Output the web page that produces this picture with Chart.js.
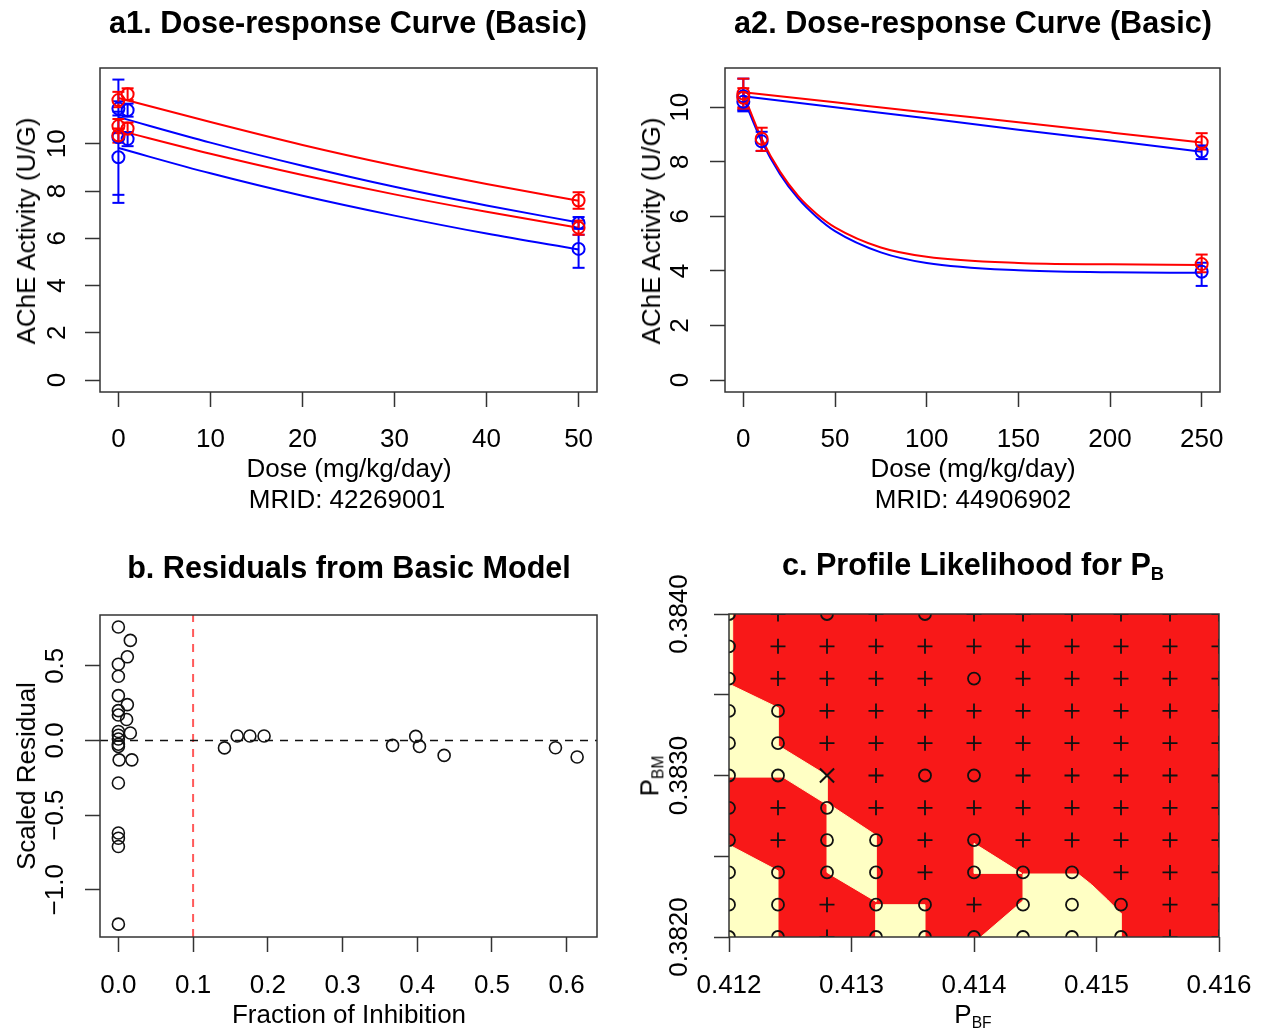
<!DOCTYPE html>
<html>
<head>
<meta charset="utf-8">
<script src="https://cdn.jsdelivr.net/npm/chart.js@4.4.1/dist/chart.umd.min.js"></script>
<style>
  body { margin: 0; background: #fff; width: 1263px; height: 1032px; position: relative; overflow: hidden;
         font-family: "Liberation Sans", Arial, sans-serif; }
  canvas { position: absolute; }
  .txt { position: absolute; transform: translate(-50%, -50%); white-space: nowrap; font-size: 26px; line-height: 1; color: #000; }
  .title { font-weight: bold; font-size: 30.6px; }
  .rot { transform: translate(-50%, -50%) rotate(-90deg); }
  sub { font-size: 0.6em; vertical-align: -0.3em; }
</style>
</head>
<body>
<canvas id="a1" width="631" height="516" style="left:0;top:0"></canvas>
<canvas id="a2" width="632" height="516" style="left:631px;top:0"></canvas>
<canvas id="b" width="631" height="516" style="left:0;top:516px"></canvas>
<canvas id="c" width="632" height="516" style="left:631px;top:516px"></canvas>

<div class="txt title" style="left:348px;top:22px">a1. Dose-response Curve (Basic)</div>
<div class="txt rot" style="left:26px;top:231px">AChE Activity (U/G)</div>
<div class="txt" style="left:349px;top:468px">Dose (mg/kg/day)</div>
<div class="txt" style="left:347px;top:499px">MRID: 42269001</div>

<div class="txt title" style="left:973px;top:22px">a2. Dose-response Curve (Basic)</div>
<div class="txt rot" style="left:651px;top:231px">AChE Activity (U/G)</div>
<div class="txt" style="left:973px;top:468px">Dose (mg/kg/day)</div>
<div class="txt" style="left:973px;top:499px">MRID: 44906902</div>

<div class="txt title" style="left:349px;top:567px">b. Residuals from Basic Model</div>
<div class="txt rot" style="left:26px;top:776px">Scaled Residual</div>
<div class="txt" style="left:349px;top:1014px">Fraction of Inhibition</div>

<div class="txt title" style="left:973px;top:566px">c. Profile Likelihood for P<sub>B</sub></div>
<div class="txt rot" style="left:651px;top:776px">P<sub>BM</sub></div>
<div class="txt" style="left:973px;top:1016px">P<sub>BF</sub></div>

<script>
// ---- a1: MRID 42269001 ----
const a1Ticks = [0, 10, 20, 30, 40, 50];
const a1YTicks = [0, 2, 4, 6, 8, 10];
const a1CurveDose = [0, 10, 20, 30, 40, 50];
const a1RedUpperFit = [11.94, 10.92, 9.95, 9.08, 8.30, 7.59];
const a1BlueUpperFit = [11.13, 10.05, 9.07, 8.18, 7.39, 6.67];
const a1RedLowerFit = [10.57, 9.58, 8.68, 7.86, 7.12, 6.45];
const a1BlueLowerFit = [9.82, 8.75, 7.80, 6.96, 6.20, 5.53];
const a1RedDose = [0, 0, 0, 1, 1, 50, 50];
const a1RedMean = [11.85, 10.75, 10.35, 12.1, 10.65, 7.6, 6.45];
const a1RedLow = [11.55, 10.45, 10.05, 11.85, 10.4, 7.25, 6.15];
const a1RedHigh = [12.2, 11.05, 10.65, 12.35, 10.9, 7.95, 6.75];
const a1BlueDose = [0, 0, 0, 1, 1, 50, 50];
const a1BlueMean = [11.49, 10.28, 9.43, 11.42, 10.2, 6.65, 5.55];
const a1BlueLow = [11.2, 7.84, 7.5, 11.15, 9.9, 6.4, 4.75];
const a1BlueHigh = [11.8, 12.72, 11.36, 11.7, 10.5, 6.9, 6.15];

// ---- a2: MRID 44906902 ----
const a2Ticks = [0, 50, 100, 150, 200, 250];
const a2YTicks = [0, 2, 4, 6, 8, 10];
const a2SlowDose = [0, 50, 100, 150, 200, 250];
const a2RedSlowFit = [10.55, 10.18, 9.81, 9.45, 9.08, 8.71];
const a2BlueSlowFit = [10.4, 10.0, 9.6, 9.18, 8.78, 8.37];
const a2FastDose = [0, 10, 20, 30, 40, 50, 75, 100, 150, 200, 250];
const a2RedFastFit = [10.5, 8.85, 7.64, 6.74, 6.09, 5.6, 4.86, 4.52, 4.29, 4.24, 4.22];
const a2BlueFastFit = [10.35, 8.75, 7.55, 6.65, 5.98, 5.46, 4.68, 4.29, 4.02, 3.95, 3.93];
const a2RedDose = [0, 0, 10, 250, 250];
const a2RedMean = [10.5, 10.35, 8.85, 8.72, 4.25];
const a2RedLow = [9.95, 10.0, 8.4, 8.45, 3.95];
const a2RedHigh = [11.05, 10.7, 9.25, 9.05, 4.6];
const a2BlueDose = [0, 0, 10, 250, 250];
const a2BlueMean = [10.4, 10.2, 8.75, 8.38, 3.97];
const a2BlueLow = [9.85, 9.9, 8.4, 8.1, 3.45];
const a2BlueHigh = [11.05, 10.55, 9.1, 8.6, 4.3];

// ---- b: residuals ----
const bXTicks = [0, 0.1, 0.2, 0.3, 0.4, 0.5, 0.6];
const bYTicks = [-1, -0.5, 0, 0.5];
const bFraction = [0, 0.016, 0.012, 0, 0, 0, 0.012, 0, 0, 0.011, 0.016, 0, 0, 0, 0, 0, 0.001, 0.018, 0, 0, 0, 0, 0,
                   0.142, 0.159, 0.176, 0.195, 0.367, 0.398, 0.403, 0.436, 0.585, 0.614];
const bResidual = [0.76, 0.67, 0.56, 0.51, 0.43, 0.30, 0.24, 0.20, 0.17, 0.14, 0.05, 0.06, 0.035, 0.01, -0.025, -0.04, -0.13, -0.13, -0.285, -0.62, -0.655, -0.71, -1.23,
                   -0.05, 0.03, 0.03, 0.03, -0.033, 0.027, -0.04, -0.10, -0.049, -0.111];
const bCutoff = 0.1;

// ---- c: profile likelihood grid ----
const cXTicks = [0.412, 0.413, 0.414, 0.415, 0.416];
const cYTicks = [0.382, 0.3825, 0.383, 0.3835, 0.384];
const cYLabels = ['0.3820', '', '0.3830', '', '0.3840'];
const cGridX = [0.412, 0.4124, 0.4128, 0.4132, 0.4136, 0.414, 0.4144, 0.4148, 0.4152, 0.4156, 0.416];
const cGridY = [0.384, 0.3838, 0.3836, 0.3834, 0.3832, 0.383, 0.3828, 0.3826, 0.3824, 0.3822, 0.382];
// one row per cGridY value: o = inside, + = outside, x = best estimate
const cMarks = [
  'o+o+o++++++',
  'o++++++++++',
  'o++++o+++++',
  'oo+++++++++',
  'oo+++++++++',
  'oox+oo+++++',
  'o+o++++++++',
  'o+oo+o+++++',
  'oooo+ooo+++',
  'oo+oo+ooo++',
  'oo+oooooo++'
];
const cFullRegion = [[0.412, 0.382], [0.416, 0.382], [0.416, 0.384], [0.412, 0.384]];
const cInsideRegions = [
  [[0.412, 0.383566], [0.4124, 0.38342], [0.4124, 0.383186], [0.4128, 0.383], [0.4128, 0.38283], [0.4132, 0.38263],
   [0.4132, 0.38222], [0.4128, 0.3824], [0.4128, 0.38282], [0.41244, 0.38299], [0.412, 0.38299]],
  [[0.4132, 0.382], [0.4136, 0.382], [0.4136, 0.3822], [0.4132, 0.3822]],
  [[0.412, 0.382], [0.4124, 0.382], [0.4124, 0.38241], [0.412, 0.38257]],
  [[0.412, 0.383566], [0.41203, 0.383566], [0.41203, 0.384], [0.412, 0.384]],
  [[0.414, 0.38258], [0.41439, 0.382394], [0.414, 0.382394]],
  [[0.4144, 0.38239], [0.41485, 0.38239], [0.41496, 0.382324], [0.41509, 0.38223], [0.4152, 0.382146],
   [0.4152, 0.382], [0.414056, 0.382], [0.4144, 0.382224]]
];

const FONT = { family: '"Liberation Sans", Arial, sans-serif', size: 26 };
const RED = '#FF0000', BLUE = '#0000FF';

const frame = {
  id: 'frame',
  afterDatasetsDraw(chart) {
    const { ctx, chartArea: a } = chart;
    ctx.save();
    ctx.strokeStyle = '#333';
    ctx.lineWidth = 1.5;
    ctx.strokeRect(a.left, a.top, a.right - a.left, a.bottom - a.top);
    ctx.restore();
  }
};

function setup(cfg) {
  const [l, t, r, b] = cfg.area;
  const grid = { display: true, drawOnChartArea: false, drawTicks: true, tickLength: 15, tickWidth: 1.5, tickColor: '#333' };
  return {
    animation: false,
    responsive: false,
    layout: { padding: { left: 0, top: t, right: cfg.w - r, bottom: 0 } },
    plugins: { legend: { display: false }, tooltip: { enabled: false } },
    scales: {
      x: {
        type: 'linear', min: cfg.x.min, max: cfg.x.max,
        afterBuildTicks: s => { s.ticks = cfg.x.ticks.map(v => ({ value: v })); },
        afterFit: s => { s.height = cfg.h - b; s.paddingLeft = 0; s.paddingRight = 0; },
        grid, border: { display: false },
        ticks: { font: FONT, color: '#000', padding: cfg.x.pad, autoSkip: false, maxRotation: 0, callback: cfg.x.fmt }
      },
      y: {
        type: 'linear', min: cfg.y.min, max: cfg.y.max,
        afterBuildTicks: s => { s.ticks = cfg.y.ticks.map(v => ({ value: v })); },
        afterFit: s => { s.width = l; s.paddingTop = 0; s.paddingBottom = 0; },
        grid, border: { display: false },
        ticks: { font: FONT, color: '#000', padding: cfg.y.pad, autoSkip: false, minRotation: 90, maxRotation: 90,
                 crossAlign: 'center', callback: cfg.y.fmt }
      }
    }
  };
}

function xy(xs, ys) { return xs.map((x, i) => ({ x, y: ys[i] })); }

function fitLine(xs, ys, color) {
  return { data: xy(xs, ys), showLine: true, borderColor: color, borderWidth: 2, pointRadius: 0,
           cubicInterpolationMode: 'monotone', order: 3 };
}
function obsPoints(xs, ys, color) {
  return { data: xy(xs, ys), pointStyle: 'circle', pointRadius: 6, pointBorderWidth: 2,
           borderColor: color, backgroundColor: 'rgba(0,0,0,0)', order: 1 };
}
function errBars(xs, lo, hi, color) {
  const d = [];
  xs.forEach((x, i) => { d.push({ x, y: lo[i] }, { x, y: hi[i] }, { x, y: null }); });
  return { data: d, showLine: true, spanGaps: false, borderColor: color, borderWidth: 2,
           pointStyle: 'line', pointRadius: 6, pointBorderWidth: 2, pointBorderColor: color, order: 2 };
}
const intFmt = v => String(v);

// a1
new Chart(document.getElementById('a1'), {
  type: 'scatter',
  data: { datasets: [
    fitLine(a1CurveDose, a1RedUpperFit, RED), fitLine(a1CurveDose, a1BlueUpperFit, BLUE),
    fitLine(a1CurveDose, a1RedLowerFit, RED), fitLine(a1CurveDose, a1BlueLowerFit, BLUE),
    errBars(a1RedDose, a1RedLow, a1RedHigh, RED), errBars(a1BlueDose, a1BlueLow, a1BlueHigh, BLUE),
    obsPoints(a1RedDose, a1RedMean, RED), obsPoints(a1BlueDose, a1BlueMean, BLUE)
  ] },
  options: setup({ w: 631, h: 516, area: [100, 68, 597, 392],
    x: { min: -2, max: 52, ticks: a1Ticks, fmt: intFmt, pad: 17 },
    y: { min: -0.508, max: 13.21, ticks: a1YTicks, fmt: intFmt, pad: 13 } }),
  plugins: [frame]
});

// a2
new Chart(document.getElementById('a2'), {
  type: 'scatter',
  data: { datasets: [
    fitLine(a2SlowDose, a2RedSlowFit, RED), fitLine(a2SlowDose, a2BlueSlowFit, BLUE),
    fitLine(a2FastDose, a2RedFastFit, RED), fitLine(a2FastDose, a2BlueFastFit, BLUE),
    errBars(a2RedDose, a2RedLow, a2RedHigh, RED), errBars(a2BlueDose, a2BlueLow, a2BlueHigh, BLUE),
    obsPoints(a2RedDose, a2RedMean, RED), obsPoints(a2BlueDose, a2BlueMean, BLUE)
  ] },
  options: setup({ w: 632, h: 516, area: [94, 68, 589, 392],
    x: { min: -10, max: 260, ticks: a2Ticks, fmt: intFmt, pad: 17 },
    y: { min: -0.44, max: 11.44, ticks: a2YTicks, fmt: intFmt, pad: 15 } }),
  plugins: [frame]
});

// b
const bXMin = -0.0246, bXMax = 0.6406, bYMin = -1.316, bYMax = 0.84;
new Chart(document.getElementById('b'), {
  type: 'scatter',
  data: { datasets: [
    { data: xy(bFraction, bResidual), pointStyle: 'circle', pointRadius: 6, pointBorderWidth: 1.6,
      borderColor: '#111', backgroundColor: 'rgba(0,0,0,0)', order: 1 },
    { data: xy([bXMin, bXMax], [0, 0]), showLine: true, borderColor: '#111', borderWidth: 1.5,
      borderDash: [8, 7], pointRadius: 0, order: 2 },
    { data: xy([bCutoff, bCutoff], [bYMin, bYMax]), showLine: true, borderColor: '#FF5A5A', borderWidth: 2,
      borderDash: [8, 7], pointRadius: 0, order: 2 }
  ] },
  options: setup({ w: 631, h: 516, area: [100, 99, 597, 421],
    x: { min: bXMin, max: bXMax, ticks: bXTicks, fmt: v => v.toFixed(1), pad: 18 },
    y: { min: bYMin, max: bYMax, ticks: bYTicks, fmt: v => (v < 0 ? '\u2212' : '') + Math.abs(v).toFixed(1), pad: 4 } }),
  plugins: [frame]
});

// c
const polygon = (pts, color, order) => ({
  data: pts.concat([pts[0]]).map(p => ({ x: p[0], y: p[1] })), showLine: true, fill: 'shape',
  backgroundColor: color, borderColor: color, borderWidth: 1, pointRadius: 0, tension: 0, clip: 0, order
});
const marksOf = ch => {
  const d = [];
  cMarks.forEach((row, j) => row.split('').forEach((m, i) => { if (m === ch) d.push({ x: cGridX[i], y: cGridY[j] }); }));
  return d;
};
const cDatasets = [polygon(cFullRegion, '#F81818', 10)]
  .concat(cInsideRegions.map(p => polygon(p, '#FFFFC4', 5)))
  .concat([
    { data: marksOf('o'), pointStyle: 'circle', pointRadius: 6, pointBorderWidth: 1.8, borderColor: '#111',
      backgroundColor: 'rgba(0,0,0,0)', clip: 0, order: 1 },
    { data: marksOf('+'), pointStyle: 'cross', pointRadius: 7.5, pointBorderWidth: 1.8, borderColor: '#111', clip: 0, order: 1 },
    { data: marksOf('x'), pointStyle: 'crossRot', pointRadius: 10, pointBorderWidth: 2, borderColor: '#111', clip: 0, order: 0 }
  ]);
new Chart(document.getElementById('c'), {
  type: 'scatter',
  data: { datasets: cDatasets },
  options: setup({ w: 632, h: 516, area: [98, 98, 588, 421],
    x: { min: 0.412, max: 0.416, ticks: cXTicks, fmt: v => v.toFixed(3), pad: 18 },
    y: { min: 0.382, max: 0.384, ticks: cYTicks, fmt: (v, i) => cYLabels[i], pad: -6 } }),
  plugins: [frame]
});
</script>
</body>
</html>
